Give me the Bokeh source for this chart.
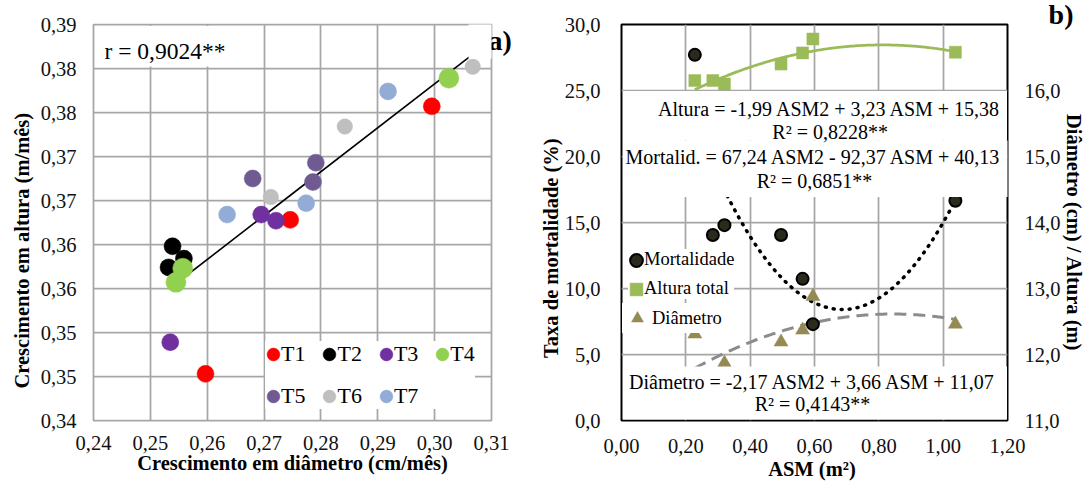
import numpy as np
from bokeh.plotting import figure
from bokeh.models import Range1d, LinearAxis, FixedTicker, Label, BoxAnnotation, Legend, LegendItem
from bokeh.layouts import row
from bokeh.embed import file_html
from bokeh.resources import INLINE

FONT = "Liberation Serif"
NB = "\u00a0"

# ---------------- Panel a) data ----------------
series_names = ["T1", "T2", "T3", "T4", "T5", "T6", "T7"]
t1_diam = [0.2995, 0.2746, 0.2597]
t1_alt = [0.3757, 0.3628, 0.3453]
t2_diam = [0.2539, 0.2559, 0.2532]
t2_alt = [0.3598, 0.3584, 0.3574]
t3_diam = [0.2535, 0.2695, 0.2721]
t3_alt = [0.3489, 0.3634, 0.3627]
t4_diam = [0.3025, 0.2557, 0.2545]
t4_alt = [0.3789, 0.3573, 0.3557]
t5_diam = [0.2680, 0.2791, 0.2786]
t5_alt = [0.3675, 0.3693, 0.3671]
t6_diam = [0.3067, 0.2842, 0.2712]
t6_alt = [0.3802, 0.3734, 0.3654]
t7_diam = [0.2918, 0.2774, 0.2635]
t7_alt = [0.3774, 0.3647, 0.3634]
trend_diam = [0.2534, 0.3067]
trend_alt = [0.3550, 0.3816]
a_x_ticks = [0.24, 0.25, 0.26, 0.27, 0.28, 0.29, 0.30, 0.31]
a_x_labels = ["0,24", "0,25", "0,26", "0,27", "0,28", "0,29", "0,30", "0,31"]
a_y_ticks = [0.340, 0.345, 0.350, 0.355, 0.360, 0.365, 0.370, 0.375, 0.380, 0.385]
a_y_labels = ["0,34", "0,35", "0,35", "0,36", "0,36", "0,37", "0,37", "0,38", "0,38", "0,39"]
a_r_text = "r = 0,9024**"
a_tag = "a)"
a_xtitle = "Crescimento em diâmetro (cm/mês)"
a_ytitle = "Crescimento em altura (m/mês)"

# ---------------- Panel b) data ----------------
asm = [0.228, 0.284, 0.320, 0.496, 0.563, 0.595, 1.038]
mortalidade = [27.7, 14.05, 14.8, 14.05, 10.73, 7.3, 16.65]
altura_total = [16.15, 16.15, 16.10, 16.40, 16.57, 16.78, 16.58]
diam_asm = [0.228, 0.320, 0.496, 0.563, 0.595, 1.038]
diametro = [12.31, 11.87, 12.19, 12.37, 12.88, 12.46]
alt_coef = [-1.99, 3.23, 15.38]
mort_coef = [67.24, -92.37, 40.13]
diam_coef = [-2.17, 3.66, 11.07]
b_x_ticks = [0.0, 0.2, 0.4, 0.6, 0.8, 1.0, 1.2]
b_x_labels = ["0,00", "0,20", "0,40", "0,60", "0,80", "1,00", "1,20"]
b_y_ticks = [0, 5, 10, 15, 20, 25, 30]
b_y_labels = ["0,0", "5,0", "10,0", "15,0", "20,0", "25,0", "30,0"]
b_y2_ticks = [11, 12, 13, 14, 15, 16]
b_y2_labels = ["11,0", "12,0", "13,0", "14,0", "15,0", "16,0"]
eq_alt = ["Altura = -1,99 ASM2 + 3,23 ASM + 15,38", "R² = 0,8228**"]
eq_mort = ["Mortalid. = 67,24 ASM2 - 92,37 ASM + 40,13", "R² = 0,6851**"]
eq_diam = ["Diâmetro = -2,17 ASM2 + 3,66 ASM + 11,07", "R² = 0,4143**"]
b_legend = ["Mortalidade", "Altura total", "Diâmetro"]
b_tag = "b)"
b_xtitle = "ASM  (m²)"
b_ytitle = "Taxa de mortalidade (%)"
b_y2title = "Diâmetro (cm) / Altura (m)"

# ---------------- styles ----------------
colors_a = ["#FF0000", "#000000", "#7030A0", "#92D050", "#6F5A91", "#BFBFBF", "#93ACD6"]
sizes_a = [17, 17, 17, 20, 17, 15.5, 17]
GRID = "#a6a6a6"

# frame geometry (pixels in the page)
FT, FB = 24, 420


def ax_(rx):
    return 0.24 + (rx - 93.0) / 398.0 * 0.07


def ay_(ry):
    return 0.34 + (FB - ry) / (FB - FT) * 0.045


def bx_(rx):
    return (rx - 618.0) / 394.0 * 1.2


def by_(ry):
    return (FB - ry) / (FB - FT) * 30.0


def style_axis(ax, ticks, labels, standoff):
    ax.ticker = FixedTicker(ticks=ticks)
    ax.major_label_overrides = dict(zip(ticks, labels))
    ax.axis_line_color = None
    ax.major_tick_line_color = None
    ax.minor_tick_line_color = None
    ax.major_tick_out = 0
    ax.major_tick_in = 0
    ax.major_label_standoff = standoff
    ax.major_label_text_font = FONT
    ax.major_label_text_font_size = "20.5px"
    ax.major_label_text_color = "#111111"
    ax.axis_label_text_font = FONT
    ax.axis_label_text_font_size = "20.5px"
    ax.axis_label_text_font_style = "bold"
    ax.axis_label_text_color = "#000000"


def add_label(p, x, y, text, size, bold=False, align="center"):
    p.add_layout(Label(x=x, y=y, text=text, text_align=align,
                       text_baseline="middle", text_font=FONT,
                       text_font_size=size, text_font_style="bold" if bold else "normal",
                       text_color="#000000"))


def white_box(p, left, right, bottom, top):
    p.add_layout(BoxAnnotation(left=left, right=right, bottom=bottom, top=top,
                               fill_color="white", fill_alpha=1.0, line_color=None))


H = 483

# ================= Panel a =================
WA = 536
pa = figure(width=WA, height=H, x_range=Range1d(0.24, 0.31), y_range=Range1d(0.34, 0.385),
            output_backend="svg", toolbar_location=None,
            min_border_left=93, min_border_right=WA - 491, min_border_top=FT,
            min_border_bottom=H - FB,
            background_fill_color="white", border_fill_color="white")
pa.outline_line_color = GRID
pa.outline_line_width = 1.75
style_axis(pa.xaxis[0], a_x_ticks, a_x_labels, 15)
style_axis(pa.yaxis[0], a_y_ticks, a_y_labels, 17)
pa.xaxis[0].axis_label = a_xtitle
pa.xaxis[0].axis_label_standoff = -1
pa.yaxis[0].axis_label = a_ytitle + NB * 11
pa.yaxis[0].axis_label_standoff = 5
pa.xgrid.ticker = FixedTicker(ticks=a_x_ticks)
pa.ygrid.ticker = FixedTicker(ticks=a_y_ticks)
for g in (pa.xgrid[0], pa.ygrid[0]):
    g.grid_line_color = GRID
    g.grid_line_width = 1.75

# panel tag "a)" placed as the only label of a bare right-hand axis
tag_pos = ay_(40)
ax_tag = LinearAxis()
style_axis(ax_tag, [tag_pos], [a_tag], -3)
ax_tag.major_label_text_font_size = "28px"
ax_tag.major_label_text_font_style = "bold"
ax_tag.major_label_text_color = "#000000"
pa.add_layout(ax_tag, "right")

pa.line(trend_diam, trend_alt, line_color="black", line_width=1.6)

a_series = [(t1_diam, t1_alt), (t2_diam, t2_alt), (t3_diam, t3_alt), (t4_diam, t4_alt),
            (t5_diam, t5_alt), (t6_diam, t6_alt), (t7_diam, t7_alt)]
a_items = []
for (xs, ys), name, c, s in zip(a_series, series_names, colors_a, sizes_a):
    r = pa.ellipse(x=xs, y=ys, width=s, height=s, width_units="screen", height_units="screen",
                   fill_color=c, line_color=c, line_width=0.5)
    a_items.append(LegendItem(label=name, renderers=[r]))

white_box(pa, ax_(94.5), ax_(235), ay_(66), ay_(25.5))
white_box(pa, ax_(468), ax_(495), ay_(58.3), ay_(20))

leg_a = Legend(items=a_items, location=(172, 11), orientation="horizontal", ncols=4,
               glyph_width=16, glyph_height=16, label_standoff=0, spacing=16, padding=7,
               margin=0, background_fill_color="white", background_fill_alpha=1.0,
               border_line_color=None, label_text_font=FONT, label_text_font_size="22px",
               label_text_color="#000000")
pa.add_layout(leg_a)

add_label(pa, ax_(104), ay_(50), a_r_text, "23.5px", align="left")

# ================= Panel b =================
WB = 1088 - WA
pb = figure(width=WB, height=H, x_range=Range1d(0, 1.2), y_range=Range1d(0, 30),
            output_backend="svg", toolbar_location=None,
            min_border_left=618 - WA, min_border_right=WB - (1012 - WA), min_border_top=FT,
            min_border_bottom=H - FB,
            background_fill_color="white", border_fill_color="white")
pb.extra_y_ranges = {"right": Range1d(11, 17)}
pb.outline_line_color = "black"
pb.outline_line_width = 2
style_axis(pb.xaxis[0], b_x_ticks, b_x_labels, 18)
style_axis(pb.yaxis[0], b_y_ticks, b_y_labels, 21)
pb.xaxis[0].axis_label = b_xtitle
pb.xaxis[0].axis_label_standoff = 2
pb.yaxis[0].axis_label = b_ytitle + NB * 10
pb.yaxis[0].axis_label_standoff = 0
ax2 = LinearAxis(y_range_name="right")
style_axis(ax2, b_y2_ticks, b_y2_labels, 17)
ax2.axis_label = NB * 4 + b_y2title
ax2.axis_label_standoff = 0
pb.add_layout(ax2, "right")
pb.xgrid.ticker = FixedTicker(ticks=b_x_ticks)
pb.ygrid.ticker = FixedTicker(ticks=b_y_ticks)
for g in (pb.xgrid[0], pb.ygrid[0]):
    g.grid_line_color = GRID
    g.grid_line_width = 1.75

xs_curve = np.linspace(min(asm), max(asm), 200)
pb.line(xs_curve, np.polyval(alt_coef, xs_curve), y_range_name="right",
        line_color="#9BBB59", line_width=2.75)
pb.line(xs_curve, np.polyval(mort_coef, xs_curve), line_color="black", line_width=3.5,
        line_dash="1 7", line_cap="round")
pb.line(xs_curve, np.polyval(diam_coef, xs_curve), y_range_name="right",
        line_color="#8c8c8c", line_width=3, line_dash="12 7")

r_tri = pb.scatter(diam_asm, diametro, y_range_name="right", marker="triangle", size=14,
                   fill_color="#948A54", line_color="#948A54", line_width=0.5)
r_sq = pb.rect(x=asm, y=altura_total, width=12, height=12, width_units="screen",
               height_units="screen", y_range_name="right",
               fill_color="#9BBB59", line_color="#9BBB59", line_width=0.5)
r_mort = pb.ellipse(x=asm, y=mortalidade, width=12, height=12, width_units="screen",
                    height_units="screen", fill_color="#2b2a1c", line_color="black",
                    line_width=2)

white_box(pb, bx_(619.5), bx_(1011.5), by_(140), by_(90.5))
white_box(pb, bx_(619.5), bx_(1014), by_(196.5), by_(140))
white_box(pb, bx_(619.5), bx_(1011.5), by_(419), by_(366))

leg_b1 = Legend(items=[LegendItem(label=b_legend[0], renderers=[r_mort]),
                       LegendItem(label=b_legend[1], renderers=[r_sq])],
                location=(7, 121), orientation="vertical",
                glyph_width=16, glyph_height=16, label_standoff=0, spacing=8, padding=6,
                margin=0, background_fill_color="white", background_fill_alpha=1.0,
                border_line_color=None, label_text_font=FONT, label_text_font_size="18.5px",
                label_text_color="#000000")
pb.add_layout(leg_b1)
leg_b2 = Legend(items=[LegendItem(label=b_legend[2], renderers=[r_tri])],
                location=(1, 87), orientation="vertical",
                glyph_width=30, glyph_height=30, label_standoff=0, spacing=0, padding=0,
                margin=0, background_fill_color="white", background_fill_alpha=1.0,
                border_line_color=None, label_text_font=FONT, label_text_font_size="18.5px",
                label_text_color="#000000")
pb.add_layout(leg_b2)

add_label(pb, bx_(830.5), by_(108), eq_alt[0], "20px")
add_label(pb, bx_(831), by_(131), eq_alt[1], "20px")
add_label(pb, bx_(814), by_(156.7), eq_mort[0], "20px")
add_label(pb, bx_(815), by_(180), eq_mort[1], "20px")
add_label(pb, bx_(813), by_(381.7), eq_diam[0], "20px")
add_label(pb, bx_(813), by_(403.3), eq_diam[1], "20px")

pb.title.text = b_tag
pb.title.align = "right"
pb.title.offset = -66
pb.title.standoff = -10
pb.title.vertical_align = "bottom"
pb.title.text_font = FONT
pb.title.text_font_size = "28px"
pb.title.text_font_style = "bold"
pb.title.text_color = "#000000"

layout = row(pa, pb)
open("out.html", "w").write(file_html(layout, INLINE))
